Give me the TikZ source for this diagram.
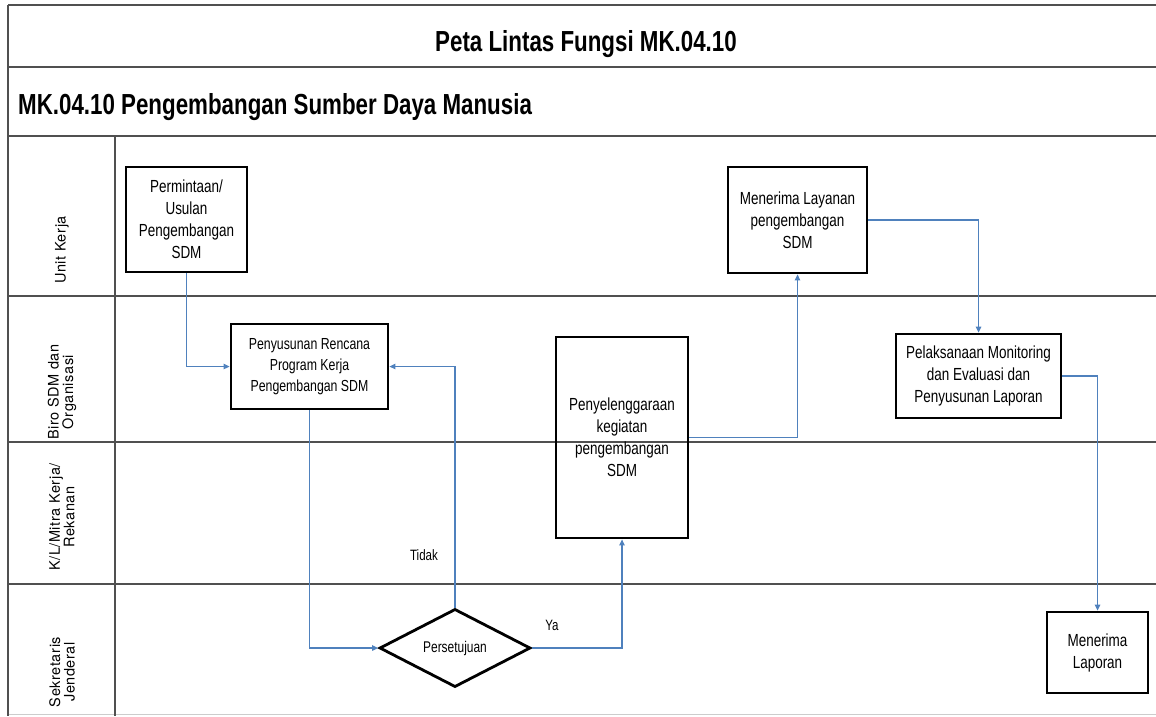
\documentclass[tikz,border=0pt]{standalone}
\usepackage{fontspec}
\setmainfont{Liberation Sans}[FakeStretch=0.77]
\newfontfamily\lanefont{TeX Gyre Heros}[LetterSpace=4]
\usetikzlibrary{shapes.geometric,arrows.meta}
\definecolor{flowblue}{RGB}{79,129,189}
\definecolor{gridgray}{RGB}{80,80,80}
\tikzset{
  box/.style={draw, line width=2.8pt, inner sep=0pt, align=center, font=\fontsize{17.5}{22}\selectfont},
  decision/.style={draw, diamond, line width=2.8pt, inner sep=0pt, font=\fontsize{15.5}{20}\selectfont},
  flow/.style={draw=flowblue, line width=1.2pt, -{Triangle[length=6pt,width=5.5pt]}},
  lane/.style={rotate=90, align=center, font=\lanefont\fontsize{14.5}{14.5}\selectfont},
  gridline/.style={draw=gridgray, line width=1.8pt},
  flowlabel/.style={font=\fontsize{15}{18}\selectfont, inner sep=0pt},
  titletext/.style={font=\bfseries\fontsize{29}{32}\selectfont, inner sep=0pt}
}
\begin{document}
\begin{tikzpicture}[x=1pt,y=-1pt]
\useasboundingbox (0,0) rectangle (1156,716);
% frame and lanes
\draw[gridline] (8,5) -- (1156,5);
\draw[gridline] (8,67) -- (1156,67);
\draw[gridline] (8,136) -- (1156,136);
\draw[gridline] (8,296) -- (1156,296);
\draw[gridline] (8,442) -- (1156,442);
\draw[gridline] (8,584) -- (1156,584);
\draw[draw=gray!40, line width=1pt] (8,714) -- (1156,714);
\draw[gridline] (8,5) -- (8,716);
\draw[gridline] (115,136) -- (115,716);
% titles
\node[titletext, anchor=base] (t1) at (586,51) {Peta Lintas Fungsi MK.04.10};
\node[titletext, anchor=base west] (t2) at (18,114) {MK.04.10 Pengembangan Sumber Daya Manusia};
% lane labels
\node[lane] (l1) at (62,250) {Unit Kerja};
\node[lane] (l2) at (62,392) {Biro SDM dan\\Organisasi};
\node[lane] (l3) at (62,517) {K/L/Mitra Kerja/\\Rekanan};
\node[lane] (l4) at (62,672) {Sekretaris\\Jenderal};
% boxes
\node[box, minimum width=121pt, minimum height=105pt] (perm) at (186.5,219.5) {Permintaan/\\Usulan\\Pengembangan\\SDM};
\node[box, minimum width=157pt, minimum height=85pt, font=\fontsize{16}{21}\selectfont] (peny) at (309.5,366.5) {Penyusunan Rencana\\Program Kerja\\Pengembangan SDM};
\node[box, minimum width=132pt, minimum height=201pt] (peng) at (622,437.5) {Penyelenggaraan\\kegiatan\\pengembangan\\SDM};
\node[box, minimum width=139pt, minimum height=106pt] (mlay) at (797.5,220) {Menerima Layanan\\pengembangan\\SDM};
\node[box, minimum width=165pt, minimum height=84pt] (pmon) at (978.5,376) {Pelaksanaan Monitoring\\dan Evaluasi dan\\Penyusunan Laporan};
\node[box, minimum width=101pt, minimum height=81pt] (mlap) at (1097.5,652.5) {Menerima\\Laporan};
\node[decision, minimum width=151pt, minimum height=75pt] (dia) at (455,648) {Persetujuan};
% connectors
\draw[flow] (perm.south) |- (peny.west);
\draw[flow] (peny.south) |- (dia.west);
\draw[flow] (dia.north) |- (peny.east);
\draw[flow] (dia.east) -| (peng.south);
\draw[flow] (peng.east) -| (mlay.south);
\draw[flow] (mlay.east) -| (pmon.north);
\draw[flow] (pmon.east) -| (mlap.north);
% labels
\node[flowlabel] (tidak) at (424,555) {Tidak};
\node[flowlabel] (ya) at (552,625) {Ya};
\end{tikzpicture}
\end{document}
